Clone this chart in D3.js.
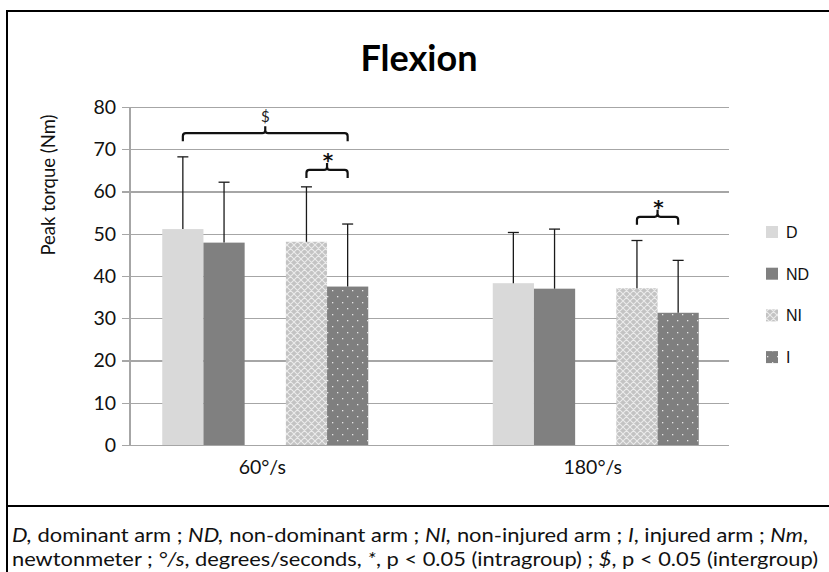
<!DOCTYPE html>
<html>
<head>
<meta charset="utf-8">
<script src="https://cdn.jsdelivr.net/npm/d3@7"></script>
<style>
  html, body { margin: 0; padding: 0; background: #fff; }
  svg { display: block; }
</style>
</head>
<body>
<div id="chart"></div>
<script>
// ---------------- DATA ----------------
const categories = ["60°/s", "180°/s"];
const seriesNames = ["D", "ND", "NI", "I"];
const meanD  = [51.1, 38.3];
const meanND = [47.9, 37.0];
const meanNI = [48.1, 37.1];
const meanI  = [37.5, 31.3];
const sdD  = [17.1, 12.0];
const sdND = [14.3, 14.1];
const sdNI = [13.0, 11.3];
const sdI  = [14.8, 12.4];
const yTicks = [0, 10, 20, 30, 40, 50, 60, 70, 80];
const bracketCats   = ["60°/s", "60°/s", "180°/s"];
const bracketFrom   = ["D", "NI", "NI"];
const bracketTo     = ["I", "I", "I"];
const bracketLevel  = [73.8, 65.1, 54.0];
const bracketLabel  = ["$", "*", "*"];
const titleText = "Flexion";
const yAxisTitle = "Peak torque (Nm)";

// ---------------- LAYOUT ----------------
const W = 829, H = 572;
const svg = d3.select("#chart").append("svg").attr("width", W).attr("height", H);
const defs = svg.append("defs");

// patterns
const pNI = defs.append("pattern").attr("id", "patNI").attr("patternUnits", "userSpaceOnUse")
  .attr("width", 7).attr("height", 7);
pNI.append("rect").attr("width", 7).attr("height", 7).attr("fill", "#c3c3c3");
pNI.append("path").attr("d", "M0,0 L7,7 M7,0 L0,7 M-1,6 L1,8 M6,-1 L8,1 M-1,1 L1,-1 M6,8 L8,6")
  .attr("stroke", "#ebebeb").attr("stroke-width", 1.1);

const pI = defs.append("pattern").attr("id", "patI").attr("patternUnits", "userSpaceOnUse")
  .attr("width", 10).attr("height", 12);
pI.append("rect").attr("width", 10).attr("height", 12).attr("fill", "#7f7f7f");
pI.append("rect").attr("x", 2).attr("y", 2).attr("width", 1.3).attr("height", 1.3).attr("fill", "#e6e6e6");
pI.append("rect").attr("x", 7).attr("y", 8).attr("width", 1.3).attr("height", 1.3).attr("fill", "#e6e6e6");

const fills = {D: "#d9d9d9", ND: "#808080", NI: "url(#patNI)", I: "url(#patI)"};
const means = {D: meanD, ND: meanND, NI: meanNI, I: meanI};
const sds = {D: sdD, ND: sdND, NI: sdNI, I: sdI};

const plotLeft = 130, plotRight = 729, plotTop = 107, plotBottom = 445;
const y = d3.scaleLinear().domain([0, 80]).range([plotBottom, plotTop]);
const x0 = d3.scaleBand().domain(categories).range([100, 761]).padding(0);
const slots = ["D", "ND", "_gap", "NI", "I"];
const groupWidth = 206;
const x1 = d3.scaleBand().domain(slots).range([0, groupWidth]).padding(0);
const groupStart = c => x0(c) + x0.bandwidth() / 2 - groupWidth / 2;

const axisFont = "Lato, 'Open Sans', sans-serif";

// frame
svg.append("line").attr("x1", 6).attr("x2", W).attr("y1", 11).attr("y2", 11).attr("stroke", "#000").attr("stroke-width", 2);
svg.append("line").attr("x1", 7).attr("x2", 7).attr("y1", 10).attr("y2", H).attr("stroke", "#000").attr("stroke-width", 2);
svg.append("line").attr("x1", 6).attr("x2", W).attr("y1", 506).attr("y2", 506).attr("stroke", "#000").attr("stroke-width", 2);

// title
svg.append("text").attr("x", 419).attr("y", 71).attr("text-anchor", "middle")
  .attr("font-family", axisFont).attr("font-weight", "bold").attr("font-size", 36).attr("fill", "#000")
  .text(titleText);

// gridlines + y axis
const yAxis = d3.axisLeft(y).tickValues(yTicks).tickSize(plotRight - plotLeft + 8).tickPadding(6).tickFormat(d3.format("d"));
const gy = svg.append("g").attr("transform", `translate(${plotRight},0)`).call(yAxis);
gy.select(".domain").remove();
gy.selectAll(".tick line").attr("stroke", "#a6a6a6").attr("stroke-width", 1.2)
  .attr("shape-rendering", "crispEdges");
gy.selectAll(".tick text").attr("font-family", axisFont).attr("font-size", 19.5).attr("fill", "#111");
svg.append("line").attr("x1", plotLeft).attr("x2", plotLeft).attr("y1", plotTop).attr("y2", plotBottom)
  .attr("stroke", "#a6a6a6").attr("stroke-width", 1.2).attr("shape-rendering", "crispEdges");

// y axis title
svg.append("text").attr("transform", `translate(55,185) rotate(-90)`)
  .attr("text-anchor", "middle").attr("font-family", axisFont).attr("font-size", 18.5).attr("fill", "#111")
  .text(yAxisTitle);

// bars
const barData = [];
categories.forEach((c, ci) => {
  seriesNames.forEach(s => barData.push({cat: c, s, v: means[s][ci], sd: sds[s][ci]}));
});
const barsG = svg.append("g");
barsG.selectAll("rect").data(barData).join("rect")
  .attr("x", d => groupStart(d.cat) + x1(d.s))
  .attr("width", x1.bandwidth())
  .attr("y", d => y(d.v))
  .attr("height", d => y(0) - y(d.v))
  .attr("fill", d => fills[d.s]);

// error bars
const eg = svg.append("g").attr("stroke", "#1a1a1a").attr("stroke-width", 1.3);
barData.forEach(d => {
  const cx = groupStart(d.cat) + x1(d.s) + x1.bandwidth() / 2;
  eg.append("line").attr("x1", cx).attr("x2", cx).attr("y1", y(d.v)).attr("y2", y(d.v + d.sd));
  eg.append("line").attr("x1", cx - 5.5).attr("x2", cx + 5.5).attr("y1", y(d.v + d.sd)).attr("y2", y(d.v + d.sd));
});

// x labels
svg.append("g").selectAll("text").data(categories).join("text")
  .attr("x", d => x0(d) + x0.bandwidth() / 2 - 3)
  .attr("y", 474).attr("text-anchor", "middle")
  .attr("font-family", axisFont).attr("font-size", 19.5).attr("fill", "#111")
  .text(d => d);

// brackets
const bg = svg.append("g");
bracketCats.forEach((c, i) => {
  const xa = groupStart(c) + x1(bracketFrom[i]) + x1.bandwidth() / 2;
  const xb = groupStart(c) + x1(bracketTo[i]) + x1.bandwidth() / 2;
  const xm = (xa + xb) / 2;
  const yl = y(bracketLevel[i]);
  const r = 3;
  const path = `M${xa},${yl + 8} L${xa},${yl + r} Q${xa},${yl} ${xa + r},${yl} L${xm - r},${yl} Q${xm},${yl} ${xm},${yl - r} L${xm},${yl - 7} M${xm},${yl - r} Q${xm},${yl} ${xm + r},${yl} L${xb - r},${yl} Q${xb},${yl} ${xb},${yl + r} L${xb},${yl + 8}`;
  bg.append("path").attr("d", path).attr("fill", "none").attr("stroke", "#111").attr("stroke-width", 2.2);
  if (bracketLabel[i] === "$") {
    bg.append("text").attr("x", xm).attr("y", yl - 11).attr("text-anchor", "middle")
      .attr("font-family", axisFont).attr("font-size", 15).attr("fill", "#222").text(bracketLabel[i]);
  } else {
    bg.append("text").attr("x", xm + 1).attr("y", yl - 3).attr("text-anchor", "middle")
      .attr("font-family", "'DejaVu Sans', sans-serif").attr("font-weight", "bold").attr("font-size", 20).attr("fill", "#111").text(bracketLabel[i]);
  }
});

// legend
const lg = svg.append("g");
seriesNames.forEach((s, i) => {
  const ly = 232 + i * 41.7;
  lg.append("rect").attr("x", 766).attr("y", ly - 6).attr("width", 12).attr("height", 12).attr("fill", fills[s]);
  lg.append("text").attr("x", 786).attr("y", ly + 6).attr("font-family", "'Liberation Sans', Arial, sans-serif")
    .attr("font-size", 16).attr("fill", "#111").text(s);
});

// caption
const capLines = [
  [["D,", true], [" dominant arm ; ", false], ["ND,", true], [" non-dominant arm ; ", false], ["NI,", true], [" non-injured arm ; ", false], ["I", true], [", injured arm ; ", false], ["Nm", true], [",", false]],
  [["newtonmeter ; ", false], ["°/s", true], [", degrees/seconds, ", false], ["*", true], [", p < 0.05 (intragroup) ; ", false], ["$", true], [", p < 0.05 (intergroup)", false]]
];
const capWidths = [796, 806];
const capY = [542, 566];
capLines.forEach((parts, li) => {
  const t = svg.append("text").attr("x", 12).attr("y", capY[li])
    .attr("font-family", axisFont).attr("font-size", 18.5).attr("fill", "#111")
    .attr("textLength", capWidths[li]).attr("lengthAdjust", "spacingAndGlyphs");
  parts.forEach(p => t.append("tspan").attr("font-style", p[1] ? "italic" : "normal").text(p[0]));
});
</script>
</body>
</html>
